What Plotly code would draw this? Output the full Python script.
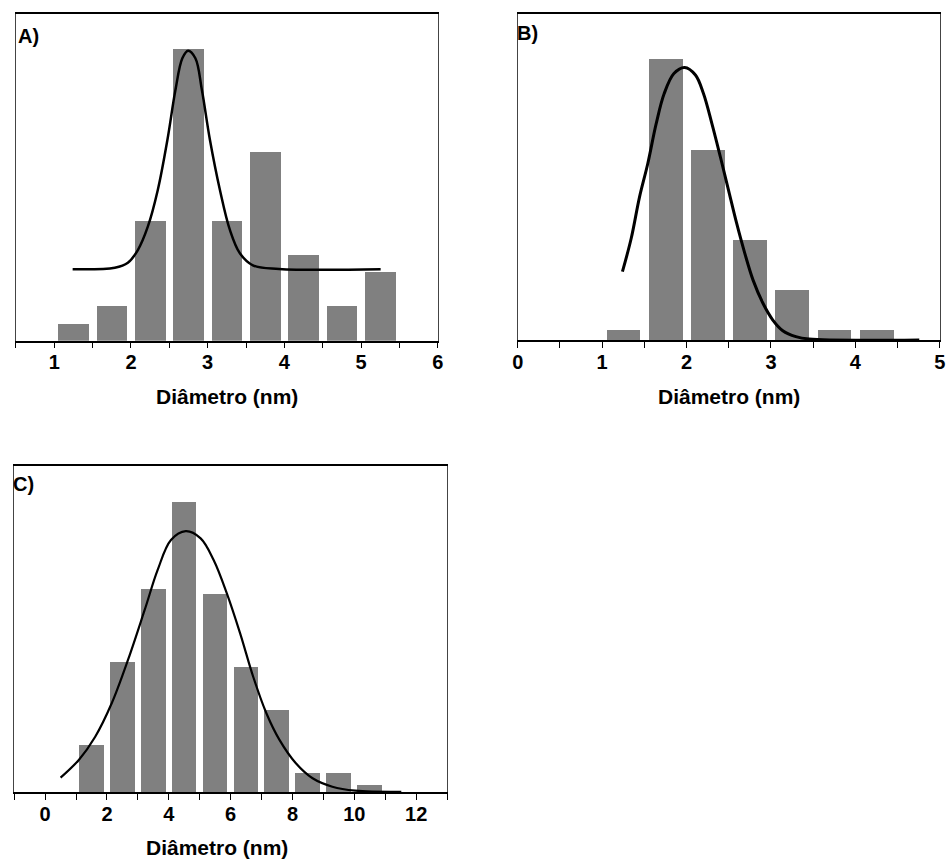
import plotly.graph_objects as go

# ---------------- data ----------------
# Panel A
a_centers = [1.25, 1.75, 2.25, 2.75, 3.25, 3.75, 4.25, 4.75, 5.25]
a_counts = [1, 2, 7, 17, 7, 11, 5, 2, 4]
a_fit_x = [1.24, 1.79, 1.96, 2.09, 2.22, 2.35, 2.475, 2.58, 2.67, 2.745, 2.84, 2.925,
           3.03, 3.16, 3.29, 3.42, 3.59, 3.93, 5.255]
a_fit_y = [4.16, 4.25, 4.54, 5.28, 6.64, 8.78, 11.69, 14.6, 16.45, 16.89, 16.45, 14.6,
           11.69, 8.78, 6.45, 5.09, 4.39, 4.18, 4.16]

# Panel B
b_centers = [1.25, 1.75, 2.25, 2.75, 3.25, 3.75, 4.25]
b_counts = [1, 28, 19, 10, 5, 1, 1]
b_fit_x = [1.24, 1.345, 1.443, 1.54, 1.64, 1.735, 1.85, 1.977, 2.105, 2.20, 2.30, 2.40,
           2.496, 2.593, 2.69, 2.788, 2.905, 3.022, 3.14, 3.295, 3.45, 4.757]
b_fit_y = [6.84, 10.2, 14.3, 17.6, 21.6, 24.6, 26.6, 27.2, 26.45, 24.6, 21.6, 18.3,
           15.0, 11.67, 8.67, 6.0, 3.69, 2.02, 0.96, 0.36, 0.12, 0.03]

# Panel C
c_centers = [1.5, 2.5, 3.5, 4.5, 5.5, 6.5, 7.5, 8.5, 9.5, 10.5]
c_counts = [11.8, 32.5, 50.8, 72.7, 49.6, 31.3, 20.7, 4.9, 4.9, 1.8]
c_fit_x = [0.50, 1.09, 1.62, 2.15, 2.68, 3.22, 3.64, 4.07, 4.55, 5.03, 5.45, 5.88, 6.31,
           6.73, 7.16, 7.58, 8.11, 8.65, 9.29, 10.03, 11.52]
c_fit_y = [3.67, 8.1, 13.9, 22.2, 33.1, 45.6, 55.6, 63.1, 65.3, 63.5, 58.1, 49.7, 39.7,
           28.9, 19.7, 13.1, 7.25, 3.5, 1.4, 0.4, 0.1]

x_title = "Diâmetro (nm)"
panel_labels = ["A)", "B)", "C)"]

# ---------------- figure ----------------
W, H = 952, 860
BAR = "#808080"
FONT = "Liberation Sans, Arial, sans-serif"

fig = go.Figure()

panels = [
    dict(cx=a_centers, cy=a_counts, w=0.4, fx=a_fit_x, fy=a_fit_y, xa="x", ya="y", lw=2.5),
    dict(cx=b_centers, cy=b_counts, w=0.4, fx=b_fit_x, fy=b_fit_y, xa="x2", ya="y2", lw=3),
    dict(cx=c_centers, cy=c_counts, w=0.8, fx=c_fit_x, fy=c_fit_y, xa="x3", ya="y3", lw=2.2),
]
for p in panels:
    fig.add_trace(go.Bar(x=p["cx"], y=p["cy"], width=p["w"], marker_color=BAR,
                         marker_line_width=0, xaxis=p["xa"], yaxis=p["ya"], showlegend=False))
    fig.add_trace(go.Scatter(x=p["fx"], y=p["fy"], mode="lines", line_shape="spline",
                             line=dict(color="black", width=p["lw"]),
                             xaxis=p["xa"], yaxis=p["ya"], showlegend=False))

def px_x(v):
    return v / W

def px_y(v):
    return 1 - v / H

def xax(domain, rng, dtick, minor, anchor):
    return dict(domain=domain, range=rng, dtick=dtick, tick0=0, anchor=anchor,
                showline=True, linecolor="black", linewidth=1.5, mirror=True,
                ticks="outside", ticklen=6, tickwidth=1.2, tickcolor="black",
                ticklabelstandoff=-3,
                minor=dict(dtick=minor, ticks="outside", ticklen=6, tickwidth=1.2,
                           tickcolor="black", showgrid=False),
                showgrid=False, zeroline=False,
                tickfont=dict(family=FONT, size=20, color="black", weight="bold"))

def yax(domain, rng, anchor):
    return dict(domain=domain, range=rng, anchor=anchor, showline=True,
                linecolor="#444444", linewidth=1, mirror=True,
                showticklabels=False, ticks="", showgrid=False, zeroline=False)

fig.update_layout(
    width=W, height=H, margin=dict(l=0, r=0, t=0, b=0),
    paper_bgcolor="white", plot_bgcolor="white", bargap=0,
    xaxis=xax([px_x(10), px_x(437.3)], [0.5, 6], 1, 0.5, "y"),
    yaxis=yax([px_y(340.7), px_y(14)], [0, 19.03], "x"),
    xaxis2=xax([px_x(518.3), px_x(945.7)], [0, 5], 1, 0.5, "y2"),
    yaxis2=yax([px_y(340.3), px_y(14)], [0, 32.53], "x2"),
    xaxis3=xax([px_x(8.3), px_x(446.7)], [-1, 13], 2, 1, "y3"),
    yaxis3=yax([px_y(792.3), px_y(466)], [0, 81.6], "x3"),
)

# axis titles
for xc, yc in [(223.7, 396), (732, 396), (213.5, 847)]:
    fig.add_annotation(text=x_title, x=px_x(xc), y=px_y(yc), xref="paper", yref="paper",
                       xanchor="center", yanchor="middle", showarrow=False,
                       font=dict(family=FONT, size=21, color="black", weight="bold"))

# panel labels
for lab, xl, yt in zip(panel_labels, [10, 515.5, 5.5], [36, 33.5, 483.5]):
    fig.add_annotation(text=lab, x=px_x(xl), y=px_y(yt), xref="paper", yref="paper",
                       xanchor="left", yanchor="middle", showarrow=False,
                       font=dict(family=FONT, size=20, color="black", weight="bold"))

fig.write_html("out.html", config={"displayModeBar": False},
               post_script="document.body.style.margin='0px';document.body.style.overflow='hidden';")
